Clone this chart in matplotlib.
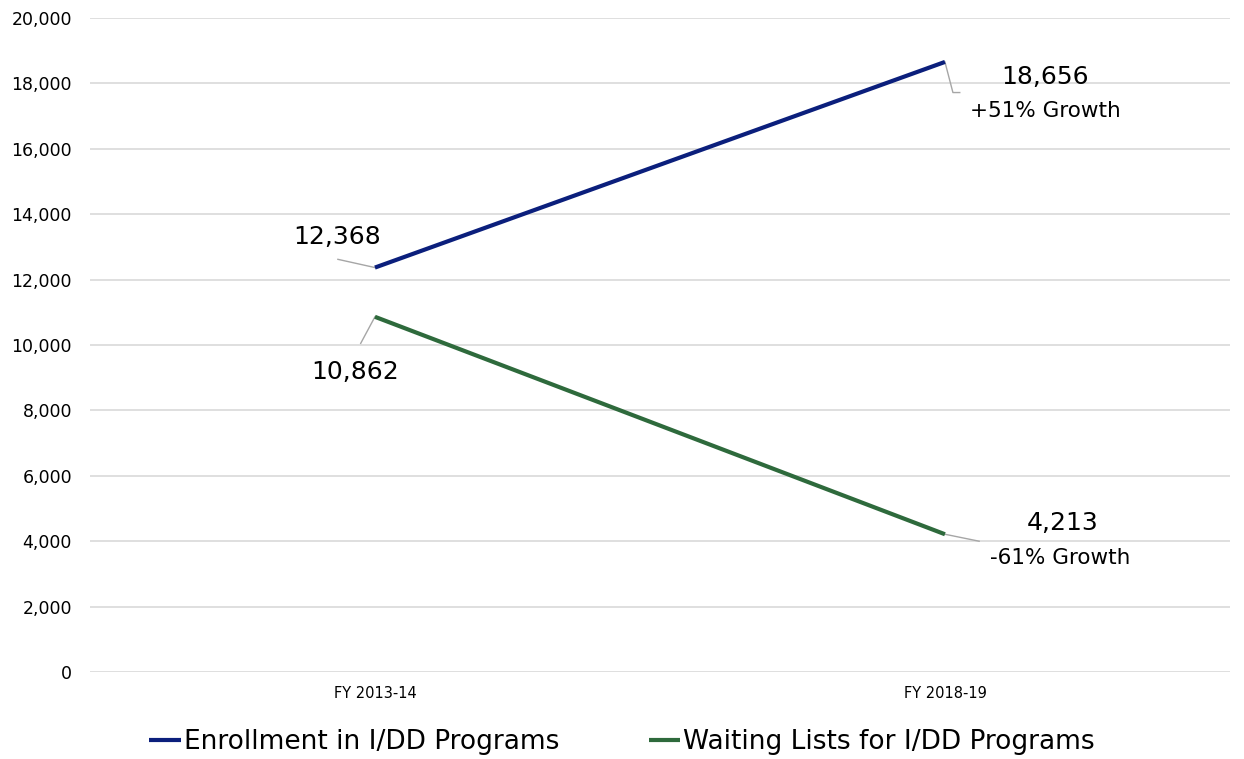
import matplotlib.pyplot as plt
import matplotlib.ticker as ticker

plt.rcParams["font.family"] = ["DejaVu Sans"]

categories = ["FY 2013-14", "FY 2018-19"]
enrollment = [12368, 18656]
waiting = [10862, 4213]
series_names = ["Enrollment in I/DD Programs", "Waiting Lists for I/DD Programs"]
growth_labels = ["+51% Growth", "-61% Growth"]
yticks = list(range(0, 20001, 2000))

navy = "#0b1f7c"
green = "#2e6a3c"
lead = "#a6a6a6"

fig = plt.figure(figsize=(12.44, 7.59), dpi=100)
ax = fig.add_axes([0.0723, 0.1146, 0.9164, 0.8617])

x = list(range(len(categories)))
ax.plot(x, enrollment, color=navy, linewidth=3, label=series_names[0], solid_capstyle="butt")
ax.plot(x, waiting, color=green, linewidth=3, label=series_names[1], solid_capstyle="butt")

ax.set_xlim(-0.5, 1.5)
ax.set_ylim(0, 20000)
ax.set_yticks(yticks)
ax.yaxis.set_major_formatter(ticker.FuncFormatter(lambda v, p: f"{int(v):,}"))
ax.set_xticks(x)
ax.set_xticklabels(categories, fontsize=10.5)
ax.tick_params(axis="y", labelsize=12.5, length=0, pad=13)
ax.tick_params(axis="x", length=0, pad=10)
ax.grid(axis="y", color="#d9d9d9", linewidth=1.2)
ax.set_axisbelow(True)
for s in ax.spines.values():
    s.set_visible(False)


def label(xv, yv, text, dx, dy, leader, sub=None, sdx=0, sdy=0):
    # value label plus a thin grey leader line back to the point
    ax.annotate(text, (xv, yv), xytext=(dx, dy), textcoords="offset points",
                ha="center", va="center", fontsize=18)
    xs = [xv] + [xv + a for a, b in leader]
    ys = [yv] + [b for a, b in leader]
    ax.plot(xs, ys, color=lead, linewidth=1, zorder=1)
    if sub:
        ax.annotate(sub, (xv, yv), xytext=(sdx, sdy), textcoords="offset points",
                    ha="center", va="center", fontsize=15.5)


label(x[0], enrollment[0], f"{enrollment[0]:,}", -27, 22, [(-0.065, 12620)])
label(x[0], waiting[0], f"{waiting[0]:,}", -14, -40, [(-0.025, 10050)])
label(x[1], enrollment[1], f"{enrollment[1]:,}", 72, -11, [(0.014, 17720), (0.026, 17720)],
      growth_labels[0], 72, -35)
label(x[1], waiting[1], f"{waiting[1]:,}", 85, 8, [(0.06, 4000)],
      growth_labels[1], 83, -17)

fig.legend(loc="lower center", bbox_to_anchor=(0.5, -0.026), ncol=2, frameon=False,
           fontsize=19, handlelength=1.2, handletextpad=0.1, columnspacing=3.4)

fig.savefig("out.png", dpi=100)
